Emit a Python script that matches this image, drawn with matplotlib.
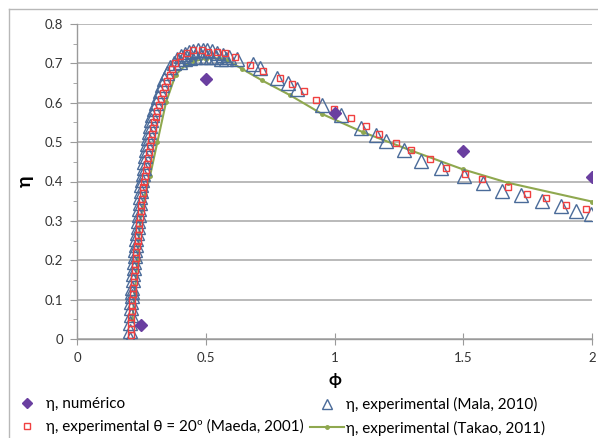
import matplotlib
matplotlib.use("Agg")
import matplotlib.pyplot as plt
from matplotlib.lines import Line2D

plt.rcParams['font.family'] = ['Lato', 'DejaVu Sans']

# --- data ---------------------------------------------------------------
num_phi = [0.25, 0.5, 1.0, 1.5, 2.0]
num_eta = [0.035, 0.66, 0.573, 0.478, 0.411]

mala_phi = [0.205, 0.206, 0.207, 0.208, 0.209, 0.210, 0.212, 0.213, 0.214, 0.216,
            0.218, 0.220, 0.222, 0.224, 0.226, 0.228, 0.230, 0.232, 0.235, 0.237,
            0.239, 0.241, 0.244, 0.246, 0.248, 0.250, 0.253, 0.256, 0.259, 0.262,
            0.265, 0.268, 0.271, 0.275, 0.279, 0.283, 0.288, 0.293, 0.299, 0.306,
            0.314, 0.321, 0.329, 0.338, 0.350, 0.362, 0.375, 0.388, 0.402, 0.418,
            0.434, 0.452, 0.470, 0.488, 0.506, 0.525, 0.545, 0.566, 0.590,
            0.40, 0.42, 0.44, 0.46, 0.48, 0.50, 0.52, 0.54, 0.56, 0.58,
            0.62, 0.685, 0.711, 0.776, 0.821, 0.856, 0.950, 1.026, 1.102, 1.163,
            1.199, 1.269, 1.337, 1.415, 1.501, 1.576, 1.650, 1.724, 1.805, 1.879,
            1.937, 1.995]
mala_eta = [0.000, 0.020, 0.040, 0.060, 0.080, 0.095, 0.110, 0.120, 0.130, 0.150,
            0.165, 0.180, 0.195, 0.210, 0.225, 0.240, 0.255, 0.270, 0.285, 0.300,
            0.315, 0.330, 0.345, 0.360, 0.375, 0.390, 0.405, 0.420, 0.435, 0.450,
            0.465, 0.480, 0.495, 0.510, 0.525, 0.540, 0.555, 0.570, 0.585, 0.600,
            0.615, 0.630, 0.645, 0.660, 0.675, 0.690, 0.700, 0.710, 0.718, 0.724,
            0.728, 0.732, 0.734, 0.735, 0.734, 0.731, 0.727, 0.722, 0.716,
            0.704, 0.710, 0.713, 0.715, 0.716, 0.716, 0.716, 0.715, 0.712, 0.710,
            0.711, 0.699, 0.687, 0.664, 0.650, 0.636, 0.594, 0.570, 0.535, 0.517,
            0.504, 0.479, 0.452, 0.435, 0.414, 0.395, 0.376, 0.365, 0.351, 0.338,
            0.326, 0.317]

maeda_phi = [0.208, 0.209, 0.210, 0.211, 0.212, 0.214, 0.215, 0.217, 0.219, 0.221,
             0.223, 0.225, 0.227, 0.229, 0.231, 0.233, 0.235, 0.237, 0.240, 0.242,
             0.244, 0.247, 0.249, 0.252, 0.255, 0.258, 0.261, 0.264, 0.267, 0.270,
             0.274, 0.278, 0.282, 0.286, 0.290, 0.295, 0.300, 0.306, 0.312, 0.318,
             0.325, 0.333, 0.341, 0.350, 0.360, 0.370, 0.381, 0.400, 0.426, 0.452,
             0.484, 0.510, 0.542, 0.575, 0.614, 0.670, 0.722, 0.787, 0.834, 0.883,
             0.928, 0.999, 1.063, 1.122, 1.173, 1.240, 1.296, 1.369, 1.434, 1.505,
             1.573, 1.672, 1.746, 1.821, 1.898, 1.978]
maeda_eta = [0.010, 0.025, 0.040, 0.055, 0.070, 0.085, 0.100, 0.115, 0.130, 0.145,
             0.160, 0.175, 0.190, 0.205, 0.220, 0.235, 0.250, 0.265, 0.280, 0.295,
             0.310, 0.325, 0.340, 0.355, 0.370, 0.385, 0.400, 0.415, 0.430, 0.445,
             0.460, 0.475, 0.490, 0.505, 0.520, 0.535, 0.550, 0.565, 0.580, 0.595,
             0.610, 0.625, 0.640, 0.655, 0.670, 0.685, 0.700, 0.720, 0.727, 0.733,
             0.733, 0.730, 0.729, 0.727, 0.716, 0.696, 0.681, 0.662, 0.648, 0.629,
             0.608, 0.583, 0.560, 0.542, 0.521, 0.498, 0.479, 0.456, 0.435, 0.418,
             0.406, 0.385, 0.368, 0.357, 0.341, 0.330]

takao_phi = [0.215, 0.225, 0.235, 0.245, 0.265, 0.284, 0.312, 0.346, 0.383, 0.422,
             0.452, 0.500, 0.550, 0.583, 0.641, 0.718, 0.828, 0.950, 1.111, 1.300,
             1.498, 1.672, 2.000]
takao_eta = [0.050, 0.120, 0.200, 0.300, 0.365, 0.415, 0.500, 0.602, 0.671, 0.696,
             0.705, 0.712, 0.713, 0.708, 0.686, 0.657, 0.619, 0.572, 0.525, 0.478,
             0.431, 0.397, 0.349]

x_ticks = [0, 0.5, 1, 1.5, 2]
x_labels = ['0', '0.5', '1', '1.5', '2']
y_ticks = [0, 0.1, 0.2, 0.3, 0.4, 0.5, 0.6, 0.7, 0.8]
y_labels = ['0', '0.1', '0.2', '0.3', '0.4', '0.5', '0.6', '0.7', '0.8']

lab_num = 'η, numérico'
lab_mala = 'η, experimental (Mala, 2010)'
lab_maeda = 'η, experimental θ = 20º (Maeda, 2001)'
lab_takao = 'η, experimental (Takao, 2011)'

# --- figure -------------------------------------------------------------
W, H = 598, 438
fig = plt.figure(figsize=(W / 100, H / 100), dpi=100)

# outer chart frame (only left and top edges fall inside the crop)
frame = fig.add_axes([8.5 / W, -0.2, 1.2, 1.2 - 8.5 / H], zorder=-5)
frame.set_facecolor('none')
frame.set_xticks([])
frame.set_yticks([])
for s in ['right', 'bottom']:
    frame.spines[s].set_visible(False)
for s in ['left', 'top']:
    frame.spines[s].set_color('#b8b8b8')
    frame.spines[s].set_linewidth(1.0)

ax = fig.add_axes([77 / W, 1 - 339 / H, (592 - 77) / W, (339 - 24) / H])

ax.set_xlim(0, 2)
ax.set_ylim(0, 0.8)
ax.set_yticks(y_ticks)
ax.set_yticklabels(y_labels)
ax.set_xticks(x_ticks)
ax.set_xticklabels(x_labels)
ax.set_yticks([0.05, 0.15, 0.25, 0.35, 0.45, 0.55, 0.65, 0.75], minor=True)
ax.grid(axis='y', color='#b4b4b4', lw=1.3)
ax.set_axisbelow(True)
for s in ['top', 'right']:
    ax.spines[s].set_visible(False)
for s in ['left', 'bottom']:
    ax.spines[s].set_color('#9a9a9a')
    ax.spines[s].set_linewidth(1.0)
ax.tick_params(axis='y', which='major', direction='out', length=5, color='#9a9a9a',
               labelsize=9.5, labelcolor='#333333', pad=5)
ax.tick_params(axis='y', which='minor', direction='out', length=3, color='#9a9a9a')
ax.tick_params(axis='x', which='major', direction='inout', length=8, color='#9a9a9a',
               labelsize=9.5, labelcolor='#333333', pad=5)

ax.plot(takao_phi, takao_eta, '-', color='#8fa84f', lw=1.5, marker='o', ms=2.5,
        label=lab_takao, zorder=2)
ax.plot(mala_phi, mala_eta, '^', ls='none', ms=10, mfc='none', mec='#4a6b99', mew=1.0,
        label=lab_mala, zorder=3)
ax.plot(maeda_phi, maeda_eta, 's', ls='none', ms=4.5, mfc='none', mec='#f04040', mew=1.0,
        label=lab_maeda, zorder=4)
ax.plot(num_phi, num_eta, 'D', ls='none', ms=6.5, color='#6a3fa0', label=lab_num, zorder=5)

ax.set_xlabel('ϕ', fontsize=12, fontweight='bold', labelpad=6)
ax.set_ylabel('η', fontsize=14, fontweight='bold', rotation=90, labelpad=8)

h_num = Line2D([], [], ls='none', marker='D', ms=5, color='#6a3fa0')
h_maeda = Line2D([], [], ls='none', marker='s', ms=4, mfc='none', mec='#f04040', mew=1.0)
h_mala = Line2D([], [], ls='none', marker='^', ms=7, mfc='none', mec='#4a6b99', mew=1.0)
h_takao = Line2D([], [], ls='-', color='#8fa84f', lw=1.5, marker='o', ms=2.5)

common = dict(loc='upper left', frameon=False, fontsize=11, handlelength=2.2,
              handletextpad=0.15, labelspacing=0.55, borderpad=0.0, borderaxespad=0.0)
fig.legend([h_num, h_maeda], [lab_num, lab_maeda],
           bbox_to_anchor=(10 / W, 1 - 397 / H), **common)
fig.legend([h_mala, h_takao], [lab_mala, lab_takao],
           bbox_to_anchor=(310 / W, 1 - 397 / H), **common)

fig.savefig('out.png', dpi=100)
